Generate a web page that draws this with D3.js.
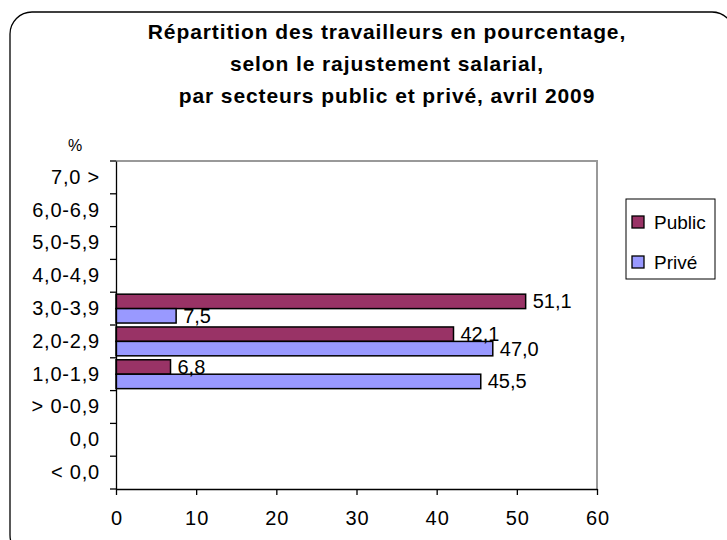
<!DOCTYPE html>
<html>
<head>
<meta charset="utf-8">
<script src="https://cdn.jsdelivr.net/npm/d3@7"></script>
<style>
  html, body { margin: 0; padding: 0; background: #fff; }
  svg text { font-family: "Liberation Sans", Arial, sans-serif; }
</style>
</head>
<body>
<svg id="chart" width="727" height="540"></svg>
<script>
// ---- data ----
const titleLines = [
  "Répartition des travailleurs en pourcentage,",
  "selon le rajustement salarial,",
  "par secteurs public et privé, avril 2009"
];
const categories = ["7,0 >", "6,0-6,9", "5,0-5,9", "4,0-4,9", "3,0-3,9", "2,0-2,9", "1,0-1,9", "> 0-0,9", "0,0", "< 0,0"];
const seriesNames = ["Public", "Privé"];
const publicValues = [null, null, null, null, 51.1, 42.1, 6.8, null, null, null];
const priveValues  = [null, null, null, null, 7.5, 47.0, 45.5, null, null, null];
const xTicks = [0, 10, 20, 30, 40, 50, 60];
const colors = ["#993366", "#9999FF"];
const unitLabel = "%";

// ---- layout ----
const svg = d3.select("#chart");
const plot = { left: 116, right: 597, top: 161, bottom: 489 };
const FONT = "'Liberation Sans', Arial, sans-serif";

// frame
svg.append("rect")
  .attr("x", 10).attr("y", 12).attr("width", 724).attr("height", 545)
  .attr("rx", 22).attr("ry", 22)
  .attr("fill", "#fff").attr("stroke", "#000").attr("stroke-width", 1.3);

// title
svg.append("g").selectAll("text").data(titleLines).join("text")
  .attr("x", 387).attr("y", (d, i) => 39 + i * 32)
  .attr("text-anchor", "middle")
  .attr("font-size", 21).attr("font-weight", "bold")
  .attr("letter-spacing", 0.9)
  .attr("fill", "#000")
  .text(d => d);

const x = d3.scaleLinear().domain([0, 60]).range([plot.left, plot.right]);
const y = d3.scaleBand().domain(categories).range([plot.top, plot.bottom])
  .paddingInner(0.12).paddingOuter(0.06);
const sub = d3.scaleBand().domain(seriesNames).range([0, y.bandwidth()]);

// plot area border (gray top/right)
svg.append("path")
  .attr("d", `M${plot.left},${plot.top}H${plot.right}V${plot.bottom}`)
  .attr("fill", "none").attr("stroke", "#999").attr("stroke-width", 2);

// bars
const rows = [];
categories.forEach((c, i) => {
  [publicValues[i], priveValues[i]].forEach((v, s) => {
    if (v !== null) rows.push({ cat: c, series: seriesNames[s], value: v, color: colors[s] });
  });
});

svg.append("g").selectAll("rect").data(rows).join("rect")
  .attr("x", x(0))
  .attr("y", d => y(d.cat) + sub(d.series))
  .attr("width", d => x(d.value) - x(0))
  .attr("height", sub.bandwidth())
  .attr("fill", d => d.color)
  .attr("stroke", "#000").attr("stroke-width", 1.5);

// data labels
svg.append("g").selectAll("text").data(rows).join("text")
  .attr("x", d => x(d.value) + 7)
  .attr("y", d => y(d.cat) + sub(d.series) + sub.bandwidth() / 2)
  .attr("dominant-baseline", "central")
  .attr("font-size", 20).attr("fill", "#000")
  .text(d => d3.format(".1f")(d.value).replace(".", ","));

// x axis
const xAxis = svg.append("g")
  .attr("transform", `translate(0,${plot.bottom})`)
  .call(d3.axisBottom(x).tickValues(xTicks).tickSize(6).tickSizeOuter(0).tickPadding(16).tickFormat(d3.format("d")));
xAxis.select(".domain").attr("stroke", "#000").attr("stroke-width", 1.3);
xAxis.selectAll(".tick line").attr("stroke", "#000").attr("stroke-width", 1.3);
xAxis.selectAll(".tick text").attr("font-size", 20).attr("fill", "#000")
  .attr("letter-spacing", 1).attr("dx", 0.5)
  .attr("font-family", FONT);

// y axis: labels at band centers, ticks at category boundaries
const yAxis = svg.append("g")
  .attr("transform", `translate(${plot.left},0)`)
  .call(d3.axisLeft(y).tickSize(0).tickPadding(16));
yAxis.select(".domain").attr("stroke", "#000").attr("stroke-width", 1.3);
yAxis.selectAll(".tick text").attr("font-size", 20).attr("fill", "#000")
  .attr("letter-spacing", 0.8)
  .attr("font-family", FONT);
const bounds = d3.range(categories.length + 1).map(k => plot.top + k * y.step());
yAxis.selectAll("line.bound").data(bounds).join("line")
  .attr("class", "bound")
  .attr("x1", -6).attr("x2", 0)
  .attr("y1", d => d).attr("y2", d => d)
  .attr("stroke", "#000").attr("stroke-width", 1.3);

// unit label
svg.append("text").attr("x", 75).attr("y", 145)
  .attr("text-anchor", "middle").attr("dominant-baseline", "central")
  .attr("font-size", 16).attr("fill", "#000").text(unitLabel);

// legend
const legend = svg.append("g");
legend.append("rect").attr("x", 626).attr("y", 199).attr("width", 89).attr("height", 80)
  .attr("fill", "#fff").attr("stroke", "#000").attr("stroke-width", 1);
const li = legend.selectAll("g.item").data(seriesNames).join("g")
  .attr("class", "item")
  .attr("transform", (d, i) => `translate(632,${222 + i * 40})`);
li.append("rect").attr("x", 0).attr("y", -6).attr("width", 12).attr("height", 12)
  .attr("fill", (d, i) => colors[i]).attr("stroke", "#000").attr("stroke-width", 1.3);
li.append("text").attr("x", 22).attr("y", 0).attr("dominant-baseline", "central")
  .attr("font-size", 19).attr("fill", "#000").text(d => d);
</script>
</body>
</html>
